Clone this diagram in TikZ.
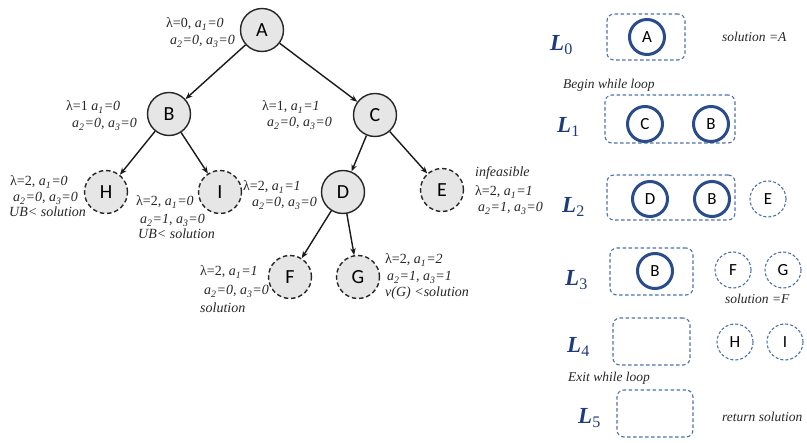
\documentclass[tikz,border=0pt]{standalone}
\usepackage{fontspec}
\setmainfont{Liberation Serif}
\newfontfamily\carlito{Carlito}
\usetikzlibrary{arrows.meta}
\definecolor{labgray}{HTML}{262626}
\definecolor{pblue}{HTML}{2B4C8A}
\definecolor{bblue}{HTML}{4F72AB}
\definecolor{Lblue}{HTML}{1F3C7A}
\definecolor{nfill}{HTML}{E6E6E6}
\newcommand\ax[1]{\textit{a}\textsubscript{#1}}
\begin{document}
\begin{tikzpicture}[x=1pt,y=-1pt,
  tnode/.style={circle, draw=black!85, fill=nfill, line width=1.4pt, minimum size=43pt, inner sep=0pt, font=\carlito\fontsize{20}{20}\selectfont},
  tdash/.style={tnode, dash pattern=on 4.5pt off 2.8pt},
  lab/.style={anchor=base west, inner sep=0pt, text=labgray, font=\fontsize{14}{14}\selectfont\itshape},
  edge/.style={-{Stealth[length=7pt,width=5.5pt]}, line width=1.4pt, black!90},
  pnode/.style={circle, draw=pblue, line width=3pt, minimum size=35pt, inner sep=0pt, font=\carlito\fontsize{17}{17}\selectfont},
  pdash/.style={circle, draw=bblue, line width=1.1pt, dash pattern=on 3pt off 2pt, minimum size=36pt, inner sep=0pt, font=\carlito\fontsize{17}{17}\selectfont},
  pbox/.style={draw=bblue, line width=1.1pt, dash pattern=on 3.5pt off 2.5pt, rounded corners=7pt, inner sep=0pt},
  Llab/.style={anchor=base west, inner sep=0pt, text=Lblue, font=\fontsize{23}{23}\selectfont\bfseries\itshape},
  ptext/.style={anchor=base west, inner sep=0pt, text=labgray, font=\fontsize{13.5}{14}\selectfont\itshape}]
\useasboundingbox (0,0) rectangle (807,443);
% tree nodes
\node[tnode] (A) at (262,30) {A};
\node[tnode] (B) at (169,114) {B};
\node[tnode] (C) at (375,115) {C};
\node[tdash] (H) at (106,192) {H};
\node[tdash] (I) at (220,192) {I};
\node[tnode] (D) at (343,192) {D};
\node[tdash] (E) at (442,190) {E};
\node[tdash] (F) at (290,277) {F};
\node[tdash] (G) at (358,277) {G};
\draw[edge] (A) -- (B);
\draw[edge] (A) -- (C);
\draw[edge] (B) -- (H);
\draw[edge] (B) -- (I);
\draw[edge] (C) -- (D);
\draw[edge] (C) -- (E);
\draw[edge] (D) -- (F);
\draw[edge] (D) -- (G);
% tree labels
\node[lab] (la1) at (166,28) {{\upshape λ=0,} \ax{1}=0};
\node[lab] (la2) at (170,45) {\ax{2}=0, \ax{3}=0};
\node[lab] (lb1) at (66,111) {{\upshape λ=1} \ax{1}=0};
\node[lab] (lb2) at (72,128) {\ax{2}=0, \ax{3}=0};
\node[lab] (lc1) at (262,111) {{\upshape λ=1,} \ax{1}=1};
\node[lab] (lc2) at (267,127) {\ax{2}=0, \ax{3}=0};
\node[lab] (lh1) at (10,186) {{\upshape λ=2,} \ax{1}=0};
\node[lab] (lh2) at (13,202) {\ax{2}=0, \ax{3}=0};
\node[lab] (lh3) at (9,217) {UB< solution};
\node[lab] (li1) at (136,206) {{\upshape λ=2,} \ax{1}=0};
\node[lab] (li2) at (140,224) {\ax{2}=1, \ax{3}=0};
\node[lab] (li3) at (138,239) {UB< solution};
\node[lab] (ld1) at (243,191) {{\upshape λ=2,} \ax{1}=1};
\node[lab] (ld2) at (252,207) {\ax{2}=0, \ax{3}=0};
\node[lab] (le1) at (475,177) {infeasible};
\node[lab] (le2) at (475,196) {{\upshape λ=2,} \ax{1}=1};
\node[lab] (le3) at (478,212) {\ax{2}=1, \ax{3}=0};
\node[lab] (lf1) at (200,276) {{\upshape λ=2,} \ax{1}=1};
\node[lab] (lf2) at (204,295) {\ax{2}=0, \ax{3}=0};
\node[lab] (lf3) at (200,313) {solution};
\node[lab] (lg1) at (385,264) {{\upshape λ=2,} \ax{1}=2};
\node[lab] (lg2) at (387,281) {\ax{2}=1, \ax{3}=1};
\node[lab] (lg3) at (385,297) {v(G) <solution};
% panel boxes
\node[pbox, minimum width=78pt, minimum height=46pt] (b0) at (646,37) {};
\node[pbox, minimum width=130pt, minimum height=48pt] (b1) at (670,119) {};
\node[pbox, minimum width=128pt, minimum height=45pt] (b2) at (671,197.5) {};
\node[pbox, minimum width=83pt, minimum height=47pt] (b3) at (651.5,271.5) {};
\node[pbox, minimum width=77pt, minimum height=47pt] (b4) at (651.5,341.5) {};
\node[pbox, minimum width=76pt, minimum height=47pt] (b5) at (655,413.5) {};
% panel L labels
\node[Llab] (L0) at (550,51) {L\textsubscript{\upshape\mdseries 0}};
\node[Llab] (L1) at (557,133) {L\textsubscript{\upshape\mdseries 1}};
\node[Llab] (L2) at (562,213) {L\textsubscript{\upshape\mdseries 2}};
\node[Llab] (L3) at (565,286) {L\textsubscript{\upshape\mdseries 3}};
\node[Llab] (L4) at (567,353) {L\textsubscript{\upshape\mdseries 4}};
\node[Llab] (L5) at (578,424) {L\textsubscript{\upshape\mdseries 5}};
% panel circles
\node[pnode] (pA) at (647,37) {A};
\node[pnode] (pC) at (645,124) {C};
\node[pnode] (pB1) at (711,124) {B};
\node[pnode] (pD) at (650,199) {D};
\node[pnode] (pB2) at (712,199) {B};
\node[pdash] (pE) at (768,199) {E};
\node[pnode] (pB3) at (655,271) {B};
\node[pdash] (pF) at (733,270) {F};
\node[pdash] (pG) at (783,270) {G};
\node[pdash] (pH) at (735,342) {H};
\node[pdash] (pI) at (785,342) {I};
% panel texts
\node[ptext] (t0) at (722,42) {solution =A};
\node[ptext] (t1) at (563,89) {Begin while loop};
\node[ptext] (t2) at (725,304) {solution =F};
\node[ptext] (t3) at (568,382) {Exit while loop};
\node[ptext] (t4) at (722,422) {return solution};
\end{tikzpicture}
\end{document}
